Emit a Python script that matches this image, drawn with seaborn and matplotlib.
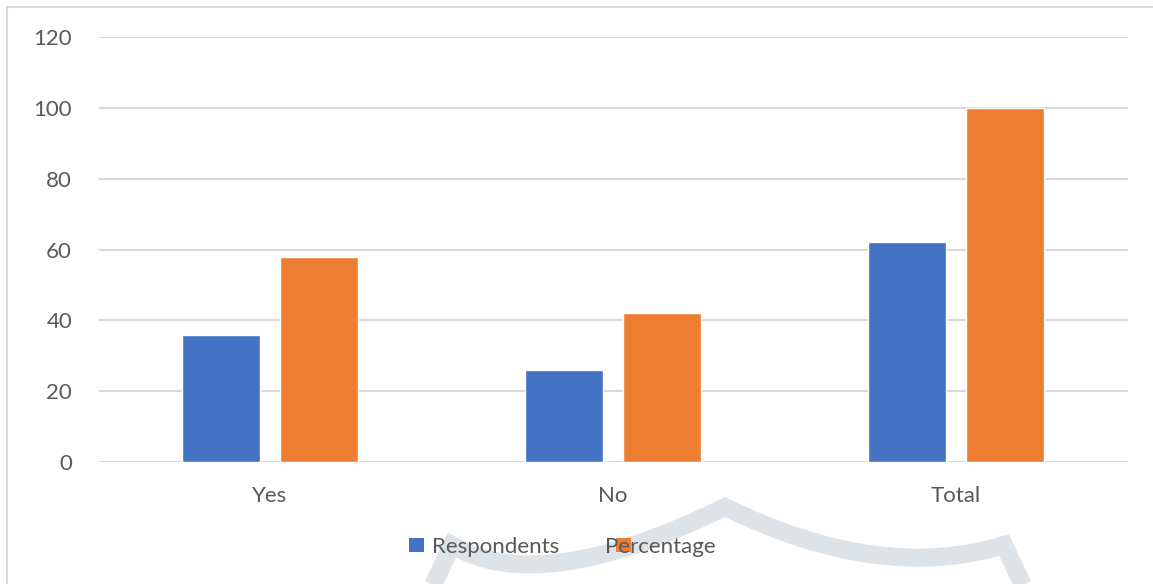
import matplotlib
matplotlib.use("Agg")
import matplotlib.pyplot as plt
import matplotlib.transforms as mtransforms
from matplotlib.path import Path
from matplotlib.patches import PathPatch, Patch
from matplotlib.lines import Line2D
import seaborn as sns
import pandas as pd

# ---- data ----
categories = ["Yes", "No", "Total"]
respondents = [36, 26, 62]
percentage = [58, 42, 100]
series_names = ["Respondents", "Percentage"]
y_ticks = [0, 20, 40, 60, 80, 100, 120]

colors = {"Respondents": "#4472C4", "Percentage": "#ED7D31"}
text_color = "#595959"
grid_color = "#d9d9d9"

df = pd.DataFrame({
    "category": categories * 2,
    "value": respondents + percentage,
    "series": [series_names[0]] * 3 + [series_names[1]] * 3,
})

sns.set_style("white")
plt.rcParams["font.family"] = ["Lato", "DejaVu Sans"]

W, H = 1153, 584
fig = plt.figure(figsize=(W / 100, H / 100), dpi=100)
fig.patch.set_facecolor("white")

# pixel-space transform (origin top-left)
px = mtransforms.Affine2D().scale(1 / W, -1 / H).translate(0, 1) + fig.transFigure

# faint emblem in the background
verts = [(426, 600), (452, 545), (540, 598), (725, 507),
         (880, 583), (1004, 545), (1030, 600)]
codes = [Path.MOVETO, Path.LINETO, Path.CURVE3, Path.CURVE3,
         Path.CURVE3, Path.CURVE3, Path.LINETO]
emblem = PathPatch(Path(verts, codes), fill=False, edgecolor="#dde3e6",
                   linewidth=13, joinstyle="miter", capstyle="butt",
                   transform=px, zorder=-5)
fig.add_artist(emblem)

# chart frame
fig.add_artist(Line2D([7, 7, W + 5], [H + 5, 7, 7], transform=px,
                      color=grid_color, linewidth=1.5, zorder=-4))

ax = fig.add_axes([98.5 / W, 1 - 462 / H, (1127.5 - 98.5) / W, (462 - 37) / H])
ax.set_facecolor("none")

sns.barplot(data=df, x="category", y="value", hue="series",
            palette=colors, width=0.572, gap=0.2, saturation=1,
            order=categories, hue_order=series_names, ax=ax, zorder=3)

ax.set_ylim(0, 120)
ax.set_yticks(y_ticks)
ax.yaxis.grid(True, color=grid_color, linewidth=1.5)
ax.set_axisbelow(True)
for s in ax.spines.values():
    s.set_visible(False)
ax.tick_params(axis="both", length=0, colors=text_color, labelsize=16)
ax.tick_params(axis="y", pad=19)
ax.tick_params(axis="x", pad=17)
ax.set_xlabel("")
ax.set_ylabel("")
ax.get_legend().remove()

# legend entries
h_resp = Patch(facecolor=colors["Respondents"], edgecolor="none")
h_pct = Patch(facecolor=colors["Percentage"], edgecolor="none")
leg1 = fig.legend([h_resp], ["Respondents"], loc="center left",
                  bbox_to_anchor=(389 / W, 1 - 547 / H), frameon=False,
                  fontsize=16, labelcolor=text_color, handlelength=0.68,
                  handleheight=0.62, handletextpad=0.35)
leg2 = fig.legend([h_pct], ["Percentage"], loc="center left",
                  bbox_to_anchor=(596 / W, 1 - 547 / H), frameon=False,
                  fontsize=16, labelcolor=text_color, handlelength=0.68,
                  handleheight=0.62, handletextpad=-1.18)

fig.savefig("out.png", dpi=100, facecolor="white")
